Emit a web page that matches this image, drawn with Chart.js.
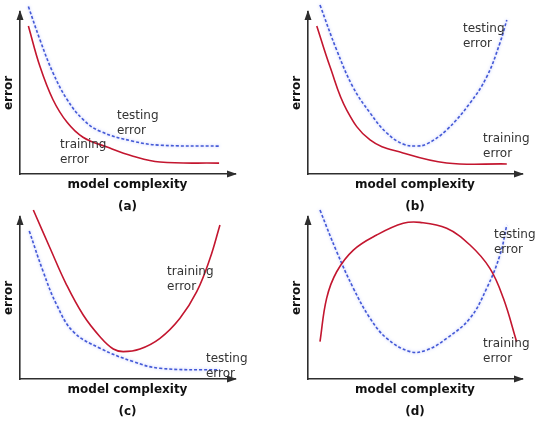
<!DOCTYPE html>
<html>
<head>
<meta charset="utf-8">
<script src="https://cdn.jsdelivr.net/npm/chart.js@4"></script>
<style>
  html, body { margin: 0; padding: 0; background: #ffffff; }
  #wrap { position: relative; width: 541px; height: 423px; overflow: hidden; }
  .panel { position: absolute; }
</style>
</head>
<body>
<div id="wrap">
  <div class="panel" style="left:0px;top:0px"><canvas id="pa" width="270" height="218"></canvas></div>
  <div class="panel" style="left:270px;top:0px"><canvas id="pb" width="271" height="218"></canvas></div>
  <div class="panel" style="left:0px;top:205px"><canvas id="pc" width="270" height="218"></canvas></div>
  <div class="panel" style="left:270px;top:205px"><canvas id="pd" width="271" height="218"></canvas></div>
</div>
<script>
// --- data: [complexity, error] ---
const aTesting  = [[0.39,10.34],[0.93,8.28],[1.53,6.26],[2.19,4.60],[2.93,3.37],[3.72,2.64],[5.26,2.02],[6.51,1.78],[9.26,1.72]];
const aTraining = [[0.39,9.14],[0.93,6.63],[1.53,4.60],[2.19,3.19],[2.93,2.27],[4.05,1.66],[5.26,1.10],[6.51,0.74],[9.26,0.67]];

const bTesting  = [[0.56,10.43],[1.34,7.65],[2.10,5.37],[2.90,3.77],[3.68,2.53],[4.44,1.85],[5.08,1.73],[5.55,1.85],[6.48,2.72],[7.57,4.38],[8.35,5.99],[8.97,8.09],[9.29,9.51]];
const bTraining = [[0.41,9.14],[1.03,6.62],[1.81,3.95],[2.90,2.10],[4.44,1.30],[6.48,0.68],[9.29,0.62]];

const cTesting  = [[0.43,9.14],[1.08,6.62],[1.71,4.57],[2.48,2.92],[3.72,1.90],[5.27,1.07],[6.51,0.66],[9.30,0.56]];
const cTraining = [[0.62,10.43],[1.40,8.07],[2.17,5.80],[2.94,3.95],[3.72,2.61],[4.34,1.85],[4.80,1.69],[5.58,1.85],[6.51,2.51],[7.44,3.75],[8.22,5.39],[8.84,7.45],[9.30,9.51]];

const dTesting  = [[0.56,10.43],[1.34,7.86],[2.12,5.60],[2.90,3.75],[3.68,2.51],[4.77,1.69],[5.55,1.79],[6.48,2.51],[7.57,3.75],[8.35,5.60],[8.97,7.65],[9.29,9.51]];
const dTraining = [[0.56,2.30],[0.87,4.98],[1.34,6.62],[2.12,7.96],[3.21,8.89],[4.45,9.61],[5.23,9.67],[6.48,9.30],[7.57,8.27],[8.50,6.83],[9.13,4.98],[9.75,2.30]];

const seriesNames = ['training error', 'testing error'];
const panelTags = ['(a)', '(b)', '(c)', '(d)'];
const xTitle = 'model complexity';
const yTitle = 'error';

const FONT = "'DejaVu Sans', Verdana, sans-serif";
const RED = '#c3162f';
const BLUE = '#4459d6';
const AXIS = '#2e2e2e';

// --- small plugins: arrow heads on the axes, curve notes, glow on dashed line ---
const arrowPlugin = {
    id: 'axisArrows',
    afterDraw(chart) {
        const { ctx, chartArea: { left, top, right, bottom } } = chart;
        ctx.save();
        ctx.fillStyle = AXIS;
        ctx.beginPath();
        ctx.moveTo(right + 2, bottom);
        ctx.lineTo(right - 8, bottom - 3.5);
        ctx.lineTo(right - 8, bottom + 3.5);
        ctx.closePath();
        ctx.fill();
        ctx.beginPath();
        ctx.moveTo(left, top - 2);
        ctx.lineTo(left - 3.5, top + 8);
        ctx.lineTo(left + 3.5, top + 8);
        ctx.closePath();
        ctx.fill();
        ctx.restore();
    }
};

const notePlugin = {
    id: 'curveNotes',
    afterDatasetsDraw(chart, args, opts) {
        const { ctx, scales } = chart;
        ctx.save();
        ctx.font = '12px ' + FONT;
        ctx.fillStyle = '#333333';
        ctx.textAlign = 'left';
        ctx.textBaseline = 'middle';
        (opts.notes || []).forEach(n => {
            const px = scales.x.getPixelForValue(n.x);
            const py = scales.y.getPixelForValue(n.y);
            seriesNames[n.s].split(' ').forEach((word, i) => {
                ctx.fillText(word, px, py + i * 15);
            });
        });
        ctx.restore();
    }
};

const glowPlugin = {
    id: 'dashGlow',
    beforeDatasetDraw(chart, args) {
        if (args.index !== 1) return;
        chart.ctx.save();
        chart.ctx.shadowColor = 'rgba(110,130,255,0.55)';
        chart.ctx.shadowBlur = 3;
    },
    afterDatasetDraw(chart, args) {
        if (args.index !== 1) return;
        chart.ctx.restore();
    }
};

const panels = [
    { canvas: 'pa', tag: panelTags[0], pad: { left: 0, right: 35 }, training: aTraining, testing: aTesting,
      notes: [{ s: 1, x: 4.51, y: 3.56 }, { s: 0, x: 1.86, y: 1.78 }] },
    { canvas: 'pb', tag: panelTags[1], pad: { left: 18, right: 19 }, training: bTraining, testing: bTesting,
      notes: [{ s: 1, x: 7.24, y: 8.95 }, { s: 0, x: 8.18, y: 2.16 }] },
    { canvas: 'pc', tag: panelTags[2], pad: { left: 0, right: 35 }, training: cTraining, testing: cTesting,
      notes: [{ s: 0, x: 6.84, y: 6.60 }, { s: 1, x: 8.65, y: 1.23 }] },
    { canvas: 'pd', tag: panelTags[3], pad: { left: 18, right: 19 }, training: dTraining, testing: dTesting,
      notes: [{ s: 1, x: 8.69, y: 8.89 }, { s: 0, x: 8.18, y: 2.16 }] }
];

panels.forEach(p => {
    const ctx = document.getElementById(p.canvas).getContext('2d');
    new Chart(ctx, {
        type: 'line',
        data: {
            datasets: [{
                label: seriesNames[0],
                data: p.training,
                borderColor: RED,
                borderWidth: 1.6,
                pointRadius: 0,
                tension: 0.4,
                clip: false
            }, {
                label: seriesNames[1],
                data: p.testing,
                borderColor: BLUE,
                borderWidth: 1.6,
                borderDash: [3, 2],
                pointRadius: 0,
                tension: 0.4,
                clip: false
            }]
        },
        options: {
            responsive: false,
            animation: false,
            devicePixelRatio: 1,
            events: [],
            layout: { padding: { top: 12, bottom: 0, left: p.pad.left, right: p.pad.right } },
            plugins: {
                legend: { display: false },
                tooltip: { enabled: false },
                curveNotes: { notes: p.notes }
            },
            scales: {
                x: {
                    type: 'linear',
                    min: 0,
                    max: 10,
                    grid: { display: false },
                    ticks: { display: false },
                    border: { display: true, color: AXIS, width: 1.6 },
                    title: {
                        display: true,
                        text: [xTitle, p.tag],
                        color: '#111111',
                        font: { family: FONT, size: 12, weight: 'bold', lineHeight: 1.833 },
                        padding: { top: 0, bottom: 0 }
                    },
                    afterFit: s => { s.height = 44; }
                },
                y: {
                    type: 'linear',
                    min: 0,
                    max: 10,
                    grid: { display: false },
                    ticks: { display: false },
                    border: { display: true, color: AXIS, width: 1.6 },
                    title: {
                        display: true,
                        text: yTitle,
                        color: '#111111',
                        font: { family: FONT, size: 12, weight: 'bold' },
                        padding: { top: 2, bottom: 0 }
                    },
                    afterFit: s => { s.width = 20; }
                }
            }
        },
        plugins: [arrowPlugin, notePlugin, glowPlugin]
    });
});
</script>
</body>
</html>
